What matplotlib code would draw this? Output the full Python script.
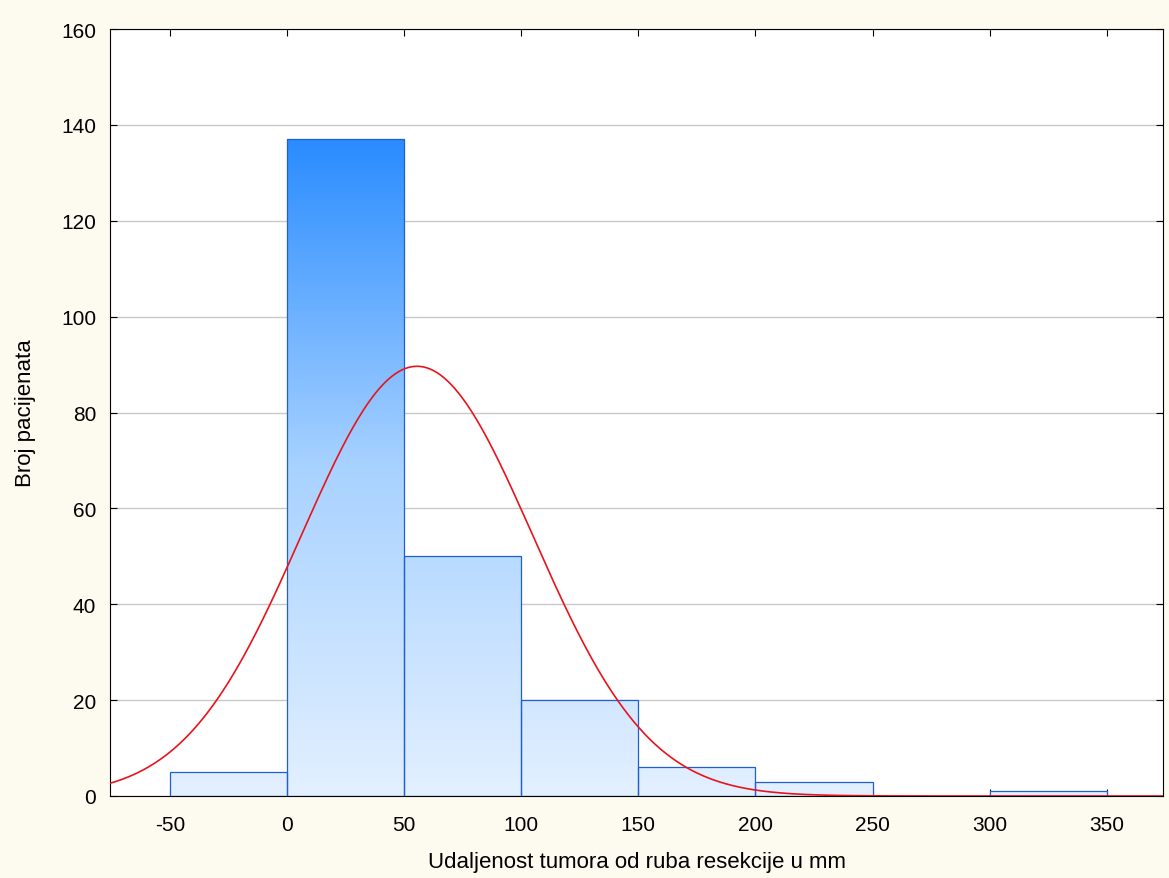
import numpy as np
import matplotlib
matplotlib.use("Agg")
import matplotlib.pyplot as plt
from matplotlib.colors import LinearSegmentedColormap

plt.rcParams['font.family'] = ['Liberation Sans', 'DejaVu Sans']
plt.rcParams['axes.unicode_minus'] = False

bin_edges = [-50, 0, 50, 100, 150, 200, 250, 300, 350]
counts = [5, 137, 50, 20, 6, 3, 0, 1]
n_total = 222
mean, sigma = 55.5, 49.4
bin_width = 50

fig = plt.figure(figsize=(11.69, 8.79), dpi=100, facecolor="#fdfbf0")
ax = fig.add_axes([110/1169, 1-797/879, (1163-110)/1169, (797-30)/879])
ax.yaxis.grid(True, color="#c8c8c8", lw=1)
ax.set_axisbelow(True)

cmap = LinearSegmentedColormap.from_list("g", ["#e3f0ff", "#a8d2ff", "#2a8cff"])
grad = np.linspace(0, 1, 256).reshape(-1, 1)
for i, c in enumerate(counts):
    if c <= 0:
        continue
    x0, x1 = bin_edges[i], bin_edges[i+1]
    rect = plt.Rectangle((x0, 0), x1-x0, c, fc="none", ec="#1f5fd0", lw=0.9, zorder=3)
    ax.add_patch(rect)
    im = ax.imshow(grad, extent=[x0, x1, 0, 137], origin="lower", cmap=cmap,
                   aspect="auto", zorder=2)
    im.set_clip_path(rect)
ax.set_xlim(-75.6, 374)
ax.set_ylim(0, 160)
ax.set_yticks(range(0, 161, 20))
ax.set_xticks(range(-50, 351, 50))

xs = np.linspace(-75.6, 374, 600)
ys = n_total*bin_width/(sigma*np.sqrt(2*np.pi))*np.exp(-(xs-mean)**2/(2*sigma**2))
ax.plot(xs, ys, color="#e8141c", lw=1.2, zorder=4)

ax.tick_params(direction="in", top=True, right=True, labelsize=15, length=5)
ax.tick_params(axis="x", pad=14)
ax.tick_params(axis="y", pad=10)
for s in ax.spines.values():
    s.set_color("black")
ax.set_xlabel("Udaljenost tumora od ruba resekcije u mm", fontsize=16, labelpad=12)
ax.set_ylabel("Broj pacijenata", fontsize=16, labelpad=18)
fig.savefig("out.png", dpi=100, facecolor=fig.get_facecolor())
